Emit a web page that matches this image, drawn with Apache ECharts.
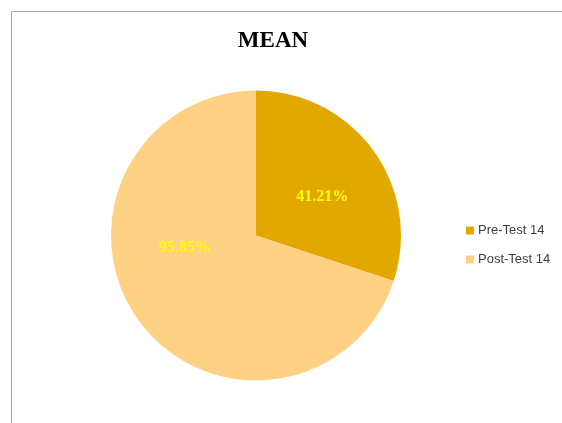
<!DOCTYPE html>
<html>
<head>
<meta charset="utf-8">
<title>MEAN</title>
<script src="https://cdn.jsdelivr.net/npm/echarts@6/dist/echarts.min.js"></script>
<style>
  html, body { margin: 0; padding: 0; background: #ffffff; }
  #chart { width: 562px; height: 423px; }
</style>
</head>
<body>
<div id="chart"></div>
<script>
// Mean scores, pre-test vs post-test
const categories = ['Pre-Test 14', 'Post-Test 14'];
const meanValues = [41.21, 95.85];
const sliceColors = ['#E1A900', '#FFD184'];

// label nudges (px) so the percentages sit where they read best
const labelShift = [[5, 6], [-10, -32]];

const chart = echarts.init(document.getElementById('chart'), null, { renderer: 'canvas' });

chart.setOption({
  animation: false,
  backgroundColor: '#ffffff',
  title: {
    text: 'MEAN',
    left: 268,
    top: 25,
    textAlign: 'center',
    textStyle: {
      fontFamily: '"Liberation Serif", "Times New Roman", serif',
      fontWeight: 'bold',
      fontSize: 23,
      color: '#000000'
    }
  },
  legend: {
    orient: 'vertical',
    left: 461,
    top: 219,
    itemWidth: 8,
    itemHeight: 8,
    itemGap: 16,
    icon: 'rect',
    data: categories,
    textStyle: {
      fontFamily: '"Liberation Sans", Arial, sans-serif',
      fontSize: 13,
      color: '#404040',
      padding: [0, 0, 0, -1]
    }
  },
  graphic: [{
    type: 'polyline',
    silent: true,
    shape: { points: [[11.5, 423], [11.5, 11.5], [562, 11.5]] },
    style: { stroke: '#a6a6a6', lineWidth: 1, fill: null }
  }],
  series: [{
    type: 'pie',
    center: [256, 235.5],
    radius: [0, 145],
    startAngle: 90,
    clockwise: true,
    avoidLabelOverlap: false,
    itemStyle: { borderWidth: 0 },
    label: {
      show: true,
      position: 'inside',
      formatter: function (p) { return p.value.toFixed(2) + '%'; },
      fontFamily: '"Liberation Serif", "Times New Roman", serif',
      fontWeight: 'bold',
      fontSize: 16,
      color: '#FFFF00'
    },
    labelLine: { show: false },
    labelLayout: function (params) {
      const s = labelShift[params.dataIndex];
      return { dx: s[0], dy: s[1] };
    },
    emphasis: { disabled: true },
    data: categories.map(function (name, i) {
      return { name: name, value: meanValues[i], itemStyle: { color: sliceColors[i] } };
    })
  }]
});
</script>
</body>
</html>
